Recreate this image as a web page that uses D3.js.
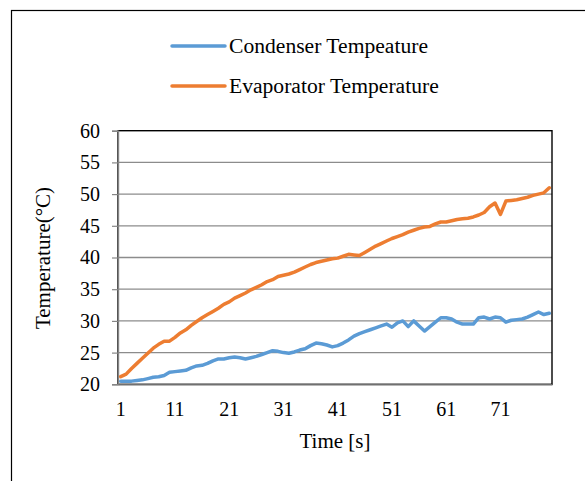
<!DOCTYPE html>
<html><head><meta charset="utf-8">
<script src="https://cdn.jsdelivr.net/npm/d3@7"></script>
<style>html,body{margin:0;padding:0;background:#fff;}svg{display:block;}</style>
</head><body>
<svg id="chart" width="585" height="481"></svg>
<script>
const categories = d3.range(1, 81);
const condenser = [
20.5,20.5,20.5,20.6,20.7,20.9,21.1,21.2,21.4,21.9,
22.0,22.1,22.2,22.6,22.9,23.0,23.3,23.7,24.0,24.0,
24.2,24.3,24.2,24.0,24.2,24.4,24.7,25.0,25.3,25.2,
25.0,24.9,25.1,25.4,25.6,26.1,26.5,26.4,26.2,25.9,
26.1,26.5,27.0,27.6,28.0,28.3,28.6,28.9,29.2,29.5,
29.0,29.7,30.0,29.1,30.0,29.2,28.4,29.1,29.8,30.5,
30.5,30.3,29.8,29.5,29.5,29.5,30.5,30.6,30.3,30.6,
30.5,29.8,30.1,30.2,30.3,30.6,31.0,31.4,31.0,31.2];
const evaporator = [
21.2,21.6,22.5,23.3,24.1,24.9,25.7,26.3,26.8,26.8,
27.4,28.1,28.6,29.3,29.9,30.5,31.0,31.5,32.0,32.6,
33.0,33.6,34.0,34.4,34.9,35.3,35.7,36.2,36.5,37.0,
37.2,37.4,37.7,38.1,38.5,38.9,39.2,39.4,39.6,39.8,
39.9,40.2,40.5,40.4,40.3,40.8,41.3,41.8,42.2,42.6,
43.0,43.3,43.6,44.0,44.3,44.6,44.8,44.9,45.3,45.6,
45.6,45.8,46.0,46.1,46.2,46.4,46.7,47.1,48.0,48.6,
46.8,48.9,49.0,49.1,49.3,49.5,49.8,50.0,50.2,51.0];
const yTicks = [20,25,30,35,40,45,50,55,60];
const xTickLabels = [1,11,21,31,41,51,61,71];
const seriesNames = ["Condenser Tempeature","Evaporator Temperature"];
const seriesColors = ["#5B9BD5","#ED7D31"];

const svg = d3.select("#chart");
const FONT = "'Liberation Serif','Times New Roman',serif";
const L = 118, R = 552, T = 130.7, B = 384.3;

// outer frame
svg.append("rect").attr("x",11.5).attr("y",10.5).attr("width",620).attr("height",520)
  .attr("fill","none").attr("stroke","#000").attr("stroke-width",1.2);

const x = d3.scaleBand().domain(categories).range([L,R]).paddingInner(0).paddingOuter(0);
const xc = d => x(d) + x.bandwidth()/2;
const y = d3.scaleLinear().domain([20,60]).range([B,T]);

// gridlines
svg.append("g").selectAll("line").data(yTicks.filter(v=>v>20 && v<60)).join("line")
  .attr("x1",L).attr("x2",R).attr("y1",d=>y(d)).attr("y2",d=>y(d))
  .attr("stroke","#8c8c8c").attr("stroke-width",1.3);

// plot border
svg.append("rect").attr("x",L).attr("y",T).attr("width",R-L).attr("height",B-T)
  .attr("fill","none").attr("stroke","#000").attr("stroke-width",1.4);

// y axis
const yAxis = d3.axisLeft(y).tickValues(yTicks).tickSize(6).tickPadding(12);
const gy = svg.append("g").attr("transform",`translate(${L},0)`).call(yAxis);
gy.attr("font-family",FONT);
gy.select(".domain").attr("stroke","#868686").attr("stroke-width",1.4);
gy.selectAll(".tick line").attr("stroke","#868686").attr("stroke-width",1.2);
gy.selectAll(".tick text").attr("font-family",FONT).attr("font-size",20).attr("fill","#000");

// x axis
const xAxis = d3.axisBottom(x).tickValues(xTickLabels).tickSize(0).tickPadding(18);
const gx = svg.append("g").attr("transform",`translate(0,${B})`).call(xAxis);
gx.attr("font-family",FONT);
gx.select(".domain").attr("stroke","#707070").attr("stroke-width",1.6);
gx.selectAll(".tick text").attr("font-family",FONT).attr("font-size",20).attr("fill","#000");

// lines
const line = d3.line().x((d,i)=>xc(categories[i])).y(d=>y(d));
[condenser, evaporator].forEach((s,i)=>{
  svg.append("path").datum(s).attr("d",line).attr("fill","none")
    .attr("stroke",seriesColors[i]).attr("stroke-width",3.5)
    .attr("stroke-linejoin","round").attr("stroke-linecap","round");
});

// axis titles
svg.append("text").attr("x",335).attr("y",448).attr("text-anchor","middle")
  .attr("font-family",FONT).attr("font-size",21).text("Time [s]");
svg.append("text").attr("transform","translate(50,258) rotate(-90)").attr("text-anchor","middle")
  .attr("font-family",FONT).attr("font-size",21).text("Temperature(°C)");

// legend
const legY = [46, 86];
seriesNames.forEach((n,i)=>{
  svg.append("line").attr("x1",172).attr("x2",225).attr("y1",legY[i]).attr("y2",legY[i])
    .attr("stroke",seriesColors[i]).attr("stroke-width",3.5).attr("stroke-linecap","round");
  svg.append("text").attr("x",229).attr("y",legY[i]+7).attr("font-family",FONT)
    .attr("font-size",21.6).text(n);
});
</script>
</body></html>
